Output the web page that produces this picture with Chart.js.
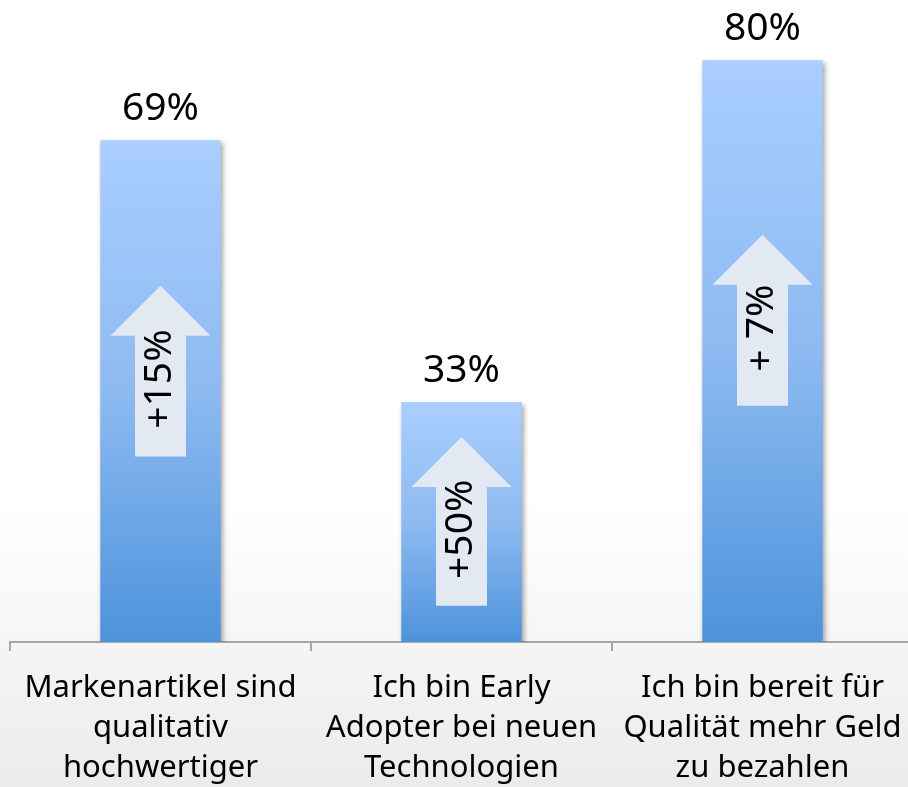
<!DOCTYPE html>
<html>
<head>
<meta charset="utf-8">
<script src="https://cdn.jsdelivr.net/npm/chart.js@4.4.0/dist/chart.umd.min.js"></script>
<style>
  html, body { margin: 0; padding: 0; overflow: hidden; }
  body {
    width: 908px; height: 787px;
    background: linear-gradient(to bottom, #ffffff 0%, #ffffff 64%, #ebebeb 100%);
  }
  #wrap { width: 920px; height: 787px; }
</style>
</head>
<body>
<div id="wrap"><canvas id="chart"></canvas></div>
<script>
// Daten
const categories = [
  ['Markenartikel sind', 'qualitativ', 'hochwertiger'],
  ['Ich bin Early', 'Adopter bei neuen', 'Technologien'],
  ['Ich bin bereit für', 'Qualität mehr Geld', 'zu bezahlen']
];
const values = [69, 33, 80];
const changeLabels = ['+15%', '+50%', '+ 7%'];

const FONT = '"Noto Sans", "Open Sans", sans-serif';

// Pfeile in den Balken (Position in Prozentpunkten der y-Achse)
const arrowPos = [
  { from: 25.5, to: 49 },
  { from: 5, to: 28.2 },
  { from: 32.5, to: 56 }
];

const barShadow = {
  id: 'barShadow',
  beforeDatasetsDraw(chart) {
    const ctx = chart.ctx;
    ctx.save();
    ctx.shadowColor = 'rgba(0,0,0,0.35)';
    ctx.shadowBlur = 5;
    ctx.shadowOffsetX = 2;
    ctx.shadowOffsetY = 3;
  },
  afterDatasetsDraw(chart) {
    chart.ctx.restore();
  }
};

const annotations = {
  id: 'annotations',
  afterDatasetsDraw(chart) {
    const ctx = chart.ctx;
    const y = chart.scales.y;
    const meta = chart.getDatasetMeta(0);
    meta.data.forEach((bar, i) => {
      const cx = bar.x;
      // Wert über dem Balken
      ctx.save();
      ctx.fillStyle = '#000';
      ctx.font = '39px ' + FONT;
      ctx.textAlign = 'center';
      ctx.textBaseline = 'alphabetic';
      ctx.fillText(values[i] + '%', cx, bar.y - 20);
      ctx.restore();

      // Pfeil
      const a = arrowPos[i];
      const yBot = y.getPixelForValue(a.from);
      const yTip = y.getPixelForValue(a.to);
      const headH = 50, headW = 50, shaftW = 25.5;
      ctx.save();
      ctx.fillStyle = '#e2e9f3';
      ctx.beginPath();
      ctx.moveTo(cx, yTip);
      ctx.lineTo(cx + headW, yTip + headH);
      ctx.lineTo(cx + shaftW, yTip + headH);
      ctx.lineTo(cx + shaftW, yBot);
      ctx.lineTo(cx - shaftW, yBot);
      ctx.lineTo(cx - shaftW, yTip + headH);
      ctx.lineTo(cx - headW, yTip + headH);
      ctx.closePath();
      ctx.fill();

      // gedrehter Text
      ctx.translate(cx - 1, (yTip + yBot) / 2 + 8);
      ctx.rotate(-Math.PI / 2);
      ctx.fillStyle = '#000';
      ctx.font = '39px ' + FONT;
      ctx.textAlign = 'center';
      ctx.textBaseline = 'middle';
      ctx.fillText(changeLabels[i], 0, 0);
      ctx.restore();
    });
  }
};

function barGradient(context) {
  const chart = context.chart;
  if (!chart.chartArea) return '#7fb0ea';
  const y = chart.scales.y;
  const top = y.getPixelForValue(values[context.dataIndex]);
  const base = y.getPixelForValue(0);
  const g = chart.ctx.createLinearGradient(0, top, 0, base);
  g.addColorStop(0, '#aaceff');
  g.addColorStop(0.5, '#8dbaf1');
  g.addColorStop(1, '#4d93db');
  return g;
}

new Chart(document.getElementById('chart'), {
  type: 'bar',
  data: {
    labels: categories,
    datasets: [{
      data: values,
      backgroundColor: barGradient,
      borderWidth: 0,
      categoryPercentage: 1,
      barPercentage: 0.4
    }]
  },
  options: {
    responsive: true,
    maintainAspectRatio: false,
    animation: false,
    layout: { padding: { left: 10, right: 7, top: 2, bottom: 0 } },
    plugins: {
      legend: { display: false },
      tooltip: { enabled: false }
    },
    scales: {
      x: {
        grid: {
          drawOnChartArea: false,
          drawTicks: true,
          tickLength: 9,
          offset: true,
          color: '#a6a6a6',
          lineWidth: 2
        },
        border: { display: true, color: '#a6a6a6', width: 2 },
        ticks: {
          color: '#000',
          padding: 17,
          font: { family: FONT, size: 31, lineHeight: 1.29 },
          maxRotation: 0,
          autoSkip: false
        },
        afterFit(axis) { axis.height = 145; }
      },
      y: {
        display: false,
        min: 0,
        max: 88
      }
    }
  },
  plugins: [barShadow, annotations]
});
</script>
</body>
</html>
